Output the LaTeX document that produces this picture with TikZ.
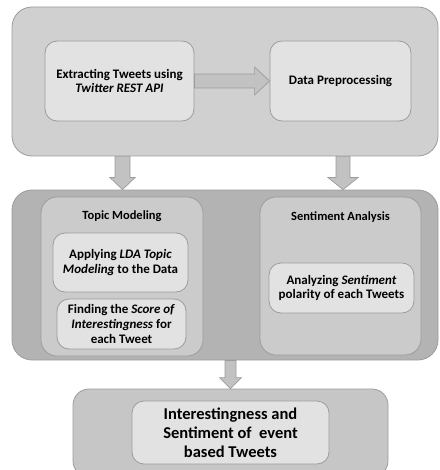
\documentclass[tikz,border=0pt]{standalone}
\usepackage{fontspec}
\setmainfont{Carlito}
\usetikzlibrary{calc}
\definecolor{outerA}{HTML}{D0D0D0}
\definecolor{outerB}{HTML}{B3B3B3}
\definecolor{outerC}{HTML}{C6C6C6}
\definecolor{midbox}{HTML}{CBCBCB}
\definecolor{innerbox}{HTML}{E2E2E2}
\definecolor{edgecol}{HTML}{9C9C9C}
\definecolor{arrowfill}{HTML}{C2C2C2}
\tikzset{
  box/.style={draw=edgecol, line width=0.8pt, rounded corners=#1, inner sep=0pt, align=center,
              font=\fontsize{13}{14.8}\selectfont\bfseries},
  box/.default=12pt,
  barrow/.style={draw=edgecol, line width=0.7pt, fill=arrowfill, line join=miter},
  titletext/.style={font=\fontsize{12.5}{14}\selectfont\bfseries},
}
\begin{document}
\begin{tikzpicture}[x=1pt,y=-1pt]
\useasboundingbox (0,0) rectangle (439,470);
% outer containers
\node[box=20pt, fill=outerA, minimum width=426pt, minimum height=149pt] (top) at (225,81.5) {};
\node[box=20pt, fill=outerB, minimum width=426pt, minimum height=170pt] (mid) at (225,275) {};
\node[box=16pt, fill=outerC, minimum width=315pt, minimum height=88pt] (bot) at (230.5,433) {};
% top row
\node[box, fill=innerbox, minimum width=149pt, minimum height=80pt] (ext) at (119.5,81)
  {Extracting Tweets using\\\textit{Twitter REST API}};
\node[box, fill=innerbox, minimum width=141pt, minimum height=80pt] (pre) at (340.5,81)
  {Data Preprocessing};
% middle groups
\node[box=16pt, fill=midbox, minimum width=162pt, minimum height=159pt] (topic) at (122,276.5) {};
\node[box=16pt, fill=midbox, minimum width=161pt, minimum height=158pt] (sent) at (340.5,276) {};
\node[titletext] (topict) at ($(topic.north)+(0,20)$) {Topic Modeling};
\node[titletext] (sentt) at ($(sent.north)+(0,20)$) {Sentiment Analysis};
\node[box, fill=innerbox, minimum width=135pt, minimum height=59pt] (appl) at (120.5,262.5)
  {Applying \textit{LDA Topic}\\\textit{Modeling} to the Data};
\node[box, fill=innerbox, minimum width=129pt, minimum height=50pt] (find) at (121.5,324)
  {Finding the \textit{Score of}\\\textit{Interestingness} for\\each Tweet};
\node[box, fill=innerbox, minimum width=145pt, minimum height=50pt] (anal) at (341.5,288)
  {Analyzing \textit{Sentiment}\\polarity of each Tweets};
% result
\node[box, fill=innerbox, minimum width=197pt, minimum height=63pt,
      font=\fontsize{16.5}{19}\selectfont\bfseries] (res) at (230.5,432.5)
  {Interestingness and\\Sentiment of\ \ event\\based Tweets};
% block arrows
\draw[barrow] ($(ext.east)+(0,-7)$) -- ($(pre.west)+(-15,-7)$) -- ($(pre.west)+(-15,-14)$)
  -- (pre.west) -- ($(pre.west)+(-15,14)$) -- ($(pre.west)+(-15,7)$) -- ($(ext.east)+(0,7)$) -- cycle;
\coordinate (a1) at ($(top.south -| topic.center)+(0.5,0)$);
\coordinate (b1) at ($(mid.north -| topic.center)+(0.5,0)$);
\draw[barrow] ($(a1)+(-7.5,0)$) -- ($(b1)+(-7.5,-12)$) -- ($(b1)+(-12.5,-12)$) -- (b1)
  -- ($(b1)+(12.5,-12)$) -- ($(b1)+(7.5,-12)$) -- ($(a1)+(7.5,0)$) -- cycle;
\coordinate (a2) at ($(top.south -| sent.center)+(2.5,0)$);
\coordinate (b2) at ($(mid.north -| sent.center)+(2.5,0)$);
\draw[barrow] ($(a2)+(-7,0)$) -- ($(b2)+(-7,-12)$) -- ($(b2)+(-15,-12)$) -- (b2)
  -- ($(b2)+(15,-12)$) -- ($(b2)+(7,-12)$) -- ($(a2)+(7,0)$) -- cycle;
\coordinate (a3) at (mid.south -| res.center);
\coordinate (b3) at (bot.north -| res.center);
\draw[barrow] ($(a3)+(-5.5,0)$) -- ($(b3)+(-5.5,-11)$) -- ($(b3)+(-11,-11)$) -- (b3)
  -- ($(b3)+(11,-11)$) -- ($(b3)+(5.5,-11)$) -- ($(a3)+(5.5,0)$) -- cycle;
\end{tikzpicture}
\end{document}
